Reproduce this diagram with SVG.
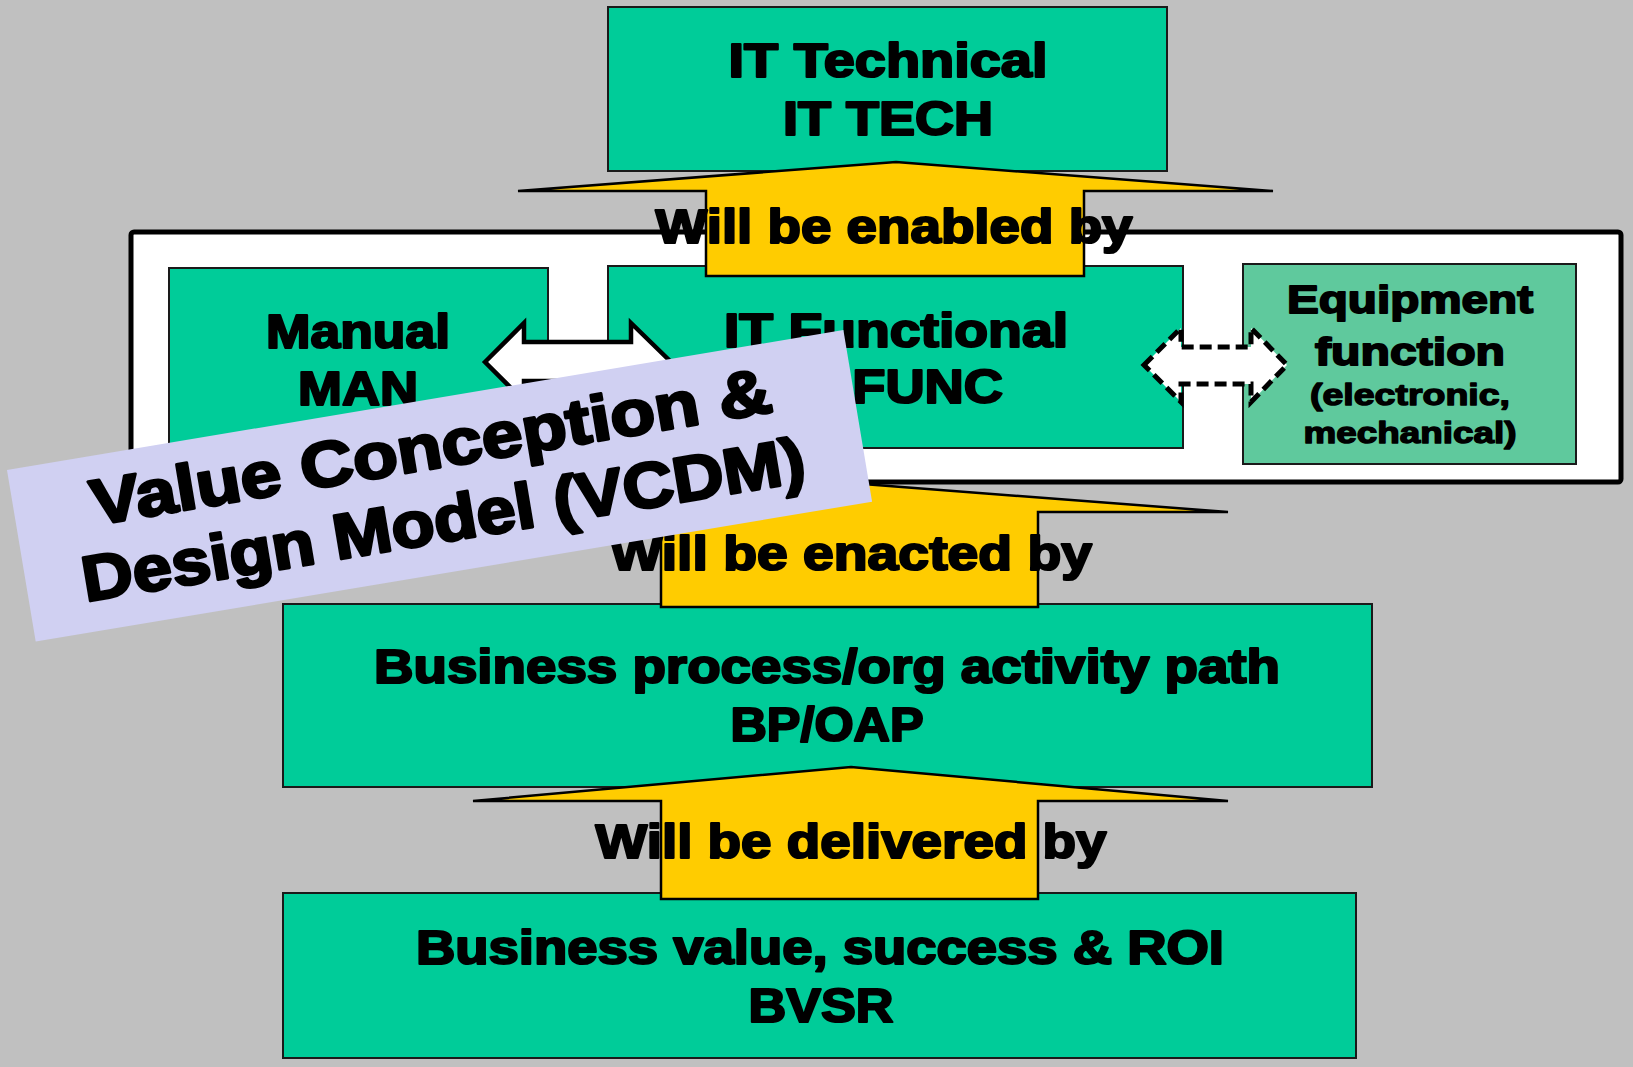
<svg xmlns="http://www.w3.org/2000/svg" width="1633" height="1067" viewBox="0 0 1633 1067">
  <style>
    .box { fill: #00CC99; stroke: #1a1a1a; stroke-width: 2; }
    .box-light { fill: #5FC99D; stroke: #1a1a1a; stroke-width: 2; }
    .frame { fill: #FFFFFF; stroke: #000000; stroke-width: 5; }
    .flow { fill: #FFCC00; stroke: #000000; stroke-width: 2.5; stroke-linejoin: miter; }
    .link { fill: #FFFFFF; stroke: #000000; stroke-width: 4.5; stroke-linejoin: miter; }
    .link-dash { fill: #FFFFFF; stroke: #000000; stroke-width: 5; stroke-dasharray: 12 6; stroke-linejoin: miter; }
    .t { font-family: "Liberation Sans", Arial, sans-serif; font-weight: bold; fill: #000; stroke: #000; stroke-width: 2.2; stroke-linejoin: round; text-anchor: middle; }
    .big { font-size: 48px; }
    .mid { font-size: 38px; stroke-width: 1.8; }
    .small { font-size: 30px; stroke-width: 1.4; }
    .banner-text { font-size: 64px; stroke-width: 2.8; }
  </style>

  <!-- page background -->
  <rect x="0" y="0" width="1633" height="1067" fill="#C0C0C0"/>

  <!-- top layer: IT technical -->
  <g id="node-it-tech">
    <rect class="box" x="608" y="7" width="559" height="164"/>
    <text class="t big" x="888" y="77" textLength="319" lengthAdjust="spacingAndGlyphs">IT Technical</text>
    <text class="t big" x="888" y="135" textLength="210" lengthAdjust="spacingAndGlyphs">IT TECH</text>
  </g>

  <!-- enabling layer container -->
  <g id="group-enabling">
    <rect class="frame" x="131" y="232" width="1490" height="250" rx="3"/>
  </g>

  <g id="node-manual">
    <rect class="box" x="169" y="268" width="379" height="180"/>
    <text class="t big" x="358" y="348" textLength="184" lengthAdjust="spacingAndGlyphs">Manual</text>
    <text class="t big" x="358" y="405" textLength="120" lengthAdjust="spacingAndGlyphs">MAN</text>
  </g>

  <g id="node-it-func">
    <rect class="box" x="608" y="266" width="575" height="182"/>
    <text class="t big" x="896" y="347" textLength="344" lengthAdjust="spacingAndGlyphs">IT Functional</text>
    <text class="t big" x="896" y="403" textLength="214" lengthAdjust="spacingAndGlyphs">IT FUNC</text>
  </g>

  <g id="node-equipment">
    <rect class="box-light" x="1243" y="264" width="333" height="200"/>
    <text class="t mid" x="1410" y="313" textLength="246" lengthAdjust="spacingAndGlyphs">Equipment</text>
    <text class="t mid" x="1410" y="365" textLength="190" lengthAdjust="spacingAndGlyphs">function</text>
    <text class="t small" x="1410" y="405" textLength="200" lengthAdjust="spacingAndGlyphs">(electronic,</text>
    <text class="t small" x="1410" y="443" textLength="213" lengthAdjust="spacingAndGlyphs">mechanical)</text>
  </g>

  <g id="node-bp-oap">
    <rect class="box" x="283" y="604" width="1089" height="183"/>
    <text class="t big" x="827" y="683" textLength="906" lengthAdjust="spacingAndGlyphs">Business process/org activity path</text>
    <text class="t big" x="827" y="741" textLength="193" lengthAdjust="spacingAndGlyphs">BP/OAP</text>
  </g>

  <g id="node-bvsr">
    <rect class="box" x="283" y="893" width="1073" height="165"/>
    <text class="t big" x="820" y="964" textLength="808" lengthAdjust="spacingAndGlyphs">Business value, success &amp; ROI</text>
    <text class="t big" x="821" y="1022" textLength="145" lengthAdjust="spacingAndGlyphs">BVSR</text>
  </g>

  <!-- connectors -->
  <g id="connectors">
    <!-- upward block arrows between layers -->
    <polygon class="flow" points="896,162 1273,191 1084,191 1084,276 706,276 706,191 518,191"/>
    <polygon class="flow" points="850,483 1228,512 1038,512 1038,607 661,607 661,512 472,512"/>
    <polygon class="flow" points="851,767 1228,801 1038,801 1038,899 661,899 661,801 473,801"/>

    <!-- manual <-> IT functional -->
    <polygon class="link" points="485,362 524,323 524,342 631,342 631,323 671,362 631,401 631,381 524,381 524,401"/>
    <!-- IT functional <-> equipment (dashed) -->
    <polygon class="link-dash" points="1144,365 1181,328 1181,347 1251,347 1251,328 1287,365 1251,402 1251,384 1181,384 1181,402"/>

    <text class="t big" x="894" y="243" textLength="477" lengthAdjust="spacingAndGlyphs">Will be enabled by</text>
    <text class="t big" x="851" y="570" textLength="482" lengthAdjust="spacingAndGlyphs">Will be enacted by</text>
    <text class="t big" x="851" y="858" textLength="511" lengthAdjust="spacingAndGlyphs">Will be delivered by</text>
  </g>

  <!-- model title banner -->
  <g id="title-banner" transform="translate(7,470) rotate(-9.5)">
    <rect x="0" y="0" width="848" height="174" fill="#D0D0F2"/>
    <text class="t banner-text" x="422" y="69" textLength="689" lengthAdjust="spacingAndGlyphs">Value Conception &amp;</text>
    <text class="t banner-text" x="422" y="143" textLength="732" lengthAdjust="spacingAndGlyphs">Design Model (VCDM)</text>
  </g>
</svg>
